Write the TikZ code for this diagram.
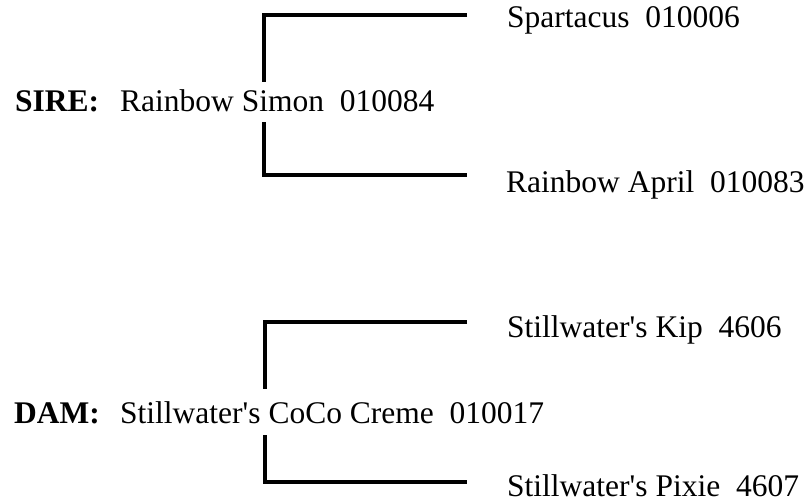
\documentclass[tikz,border=0pt]{standalone}
\usepackage{fontspec}
\setmainfont{Liberation Serif}
\begin{document}
\begin{tikzpicture}[x=1pt,y=-1pt,
  lbl/.style={anchor=base west, inner sep=0pt, font=\fontsize{31.5}{36}\selectfont},
  bracket/.style={line width=4pt, line join=miter}]
\useasboundingbox[fill=white] (0,0) rectangle (808,503);
% sire block
\node[lbl] (sirelab) at (15,111) {\bfseries SIRE:};
\node[lbl] (sire) at (120,111) {Rainbow Simon~~010084};
\node[lbl] (sp) at (507,28) {Spartacus~~010006};
\node[lbl] (ra) at (506,192) {Rainbow April~~010083};
\coordinate (sT) at (467,15);
\coordinate (sA) at (264,82);
\coordinate (sB) at (264,122);
\coordinate (sE) at (467,175);
\draw[bracket] (sT) -| (sA);
\draw[bracket] (sB) |- (sE);
% dam block
\node[lbl] (damlab) at (14,423) {\bfseries DAM:};
\node[lbl] (dam) at (120,423) {Stillwater\textquotesingle s CoCo Creme~~010017};
\node[lbl] (kip) at (507,337) {Stillwater\textquotesingle s Kip~~4606};
\node[lbl] (px) at (507,496) {Stillwater\textquotesingle s Pixie~~4607};
\coordinate (dT) at (467,322);
\coordinate (dA) at (265,389);
\coordinate (dB) at (265,435);
\coordinate (dE) at (467,482);
\draw[bracket] (dT) -| (dA);
\draw[bracket] (dB) |- (dE);
\end{tikzpicture}
\end{document}
